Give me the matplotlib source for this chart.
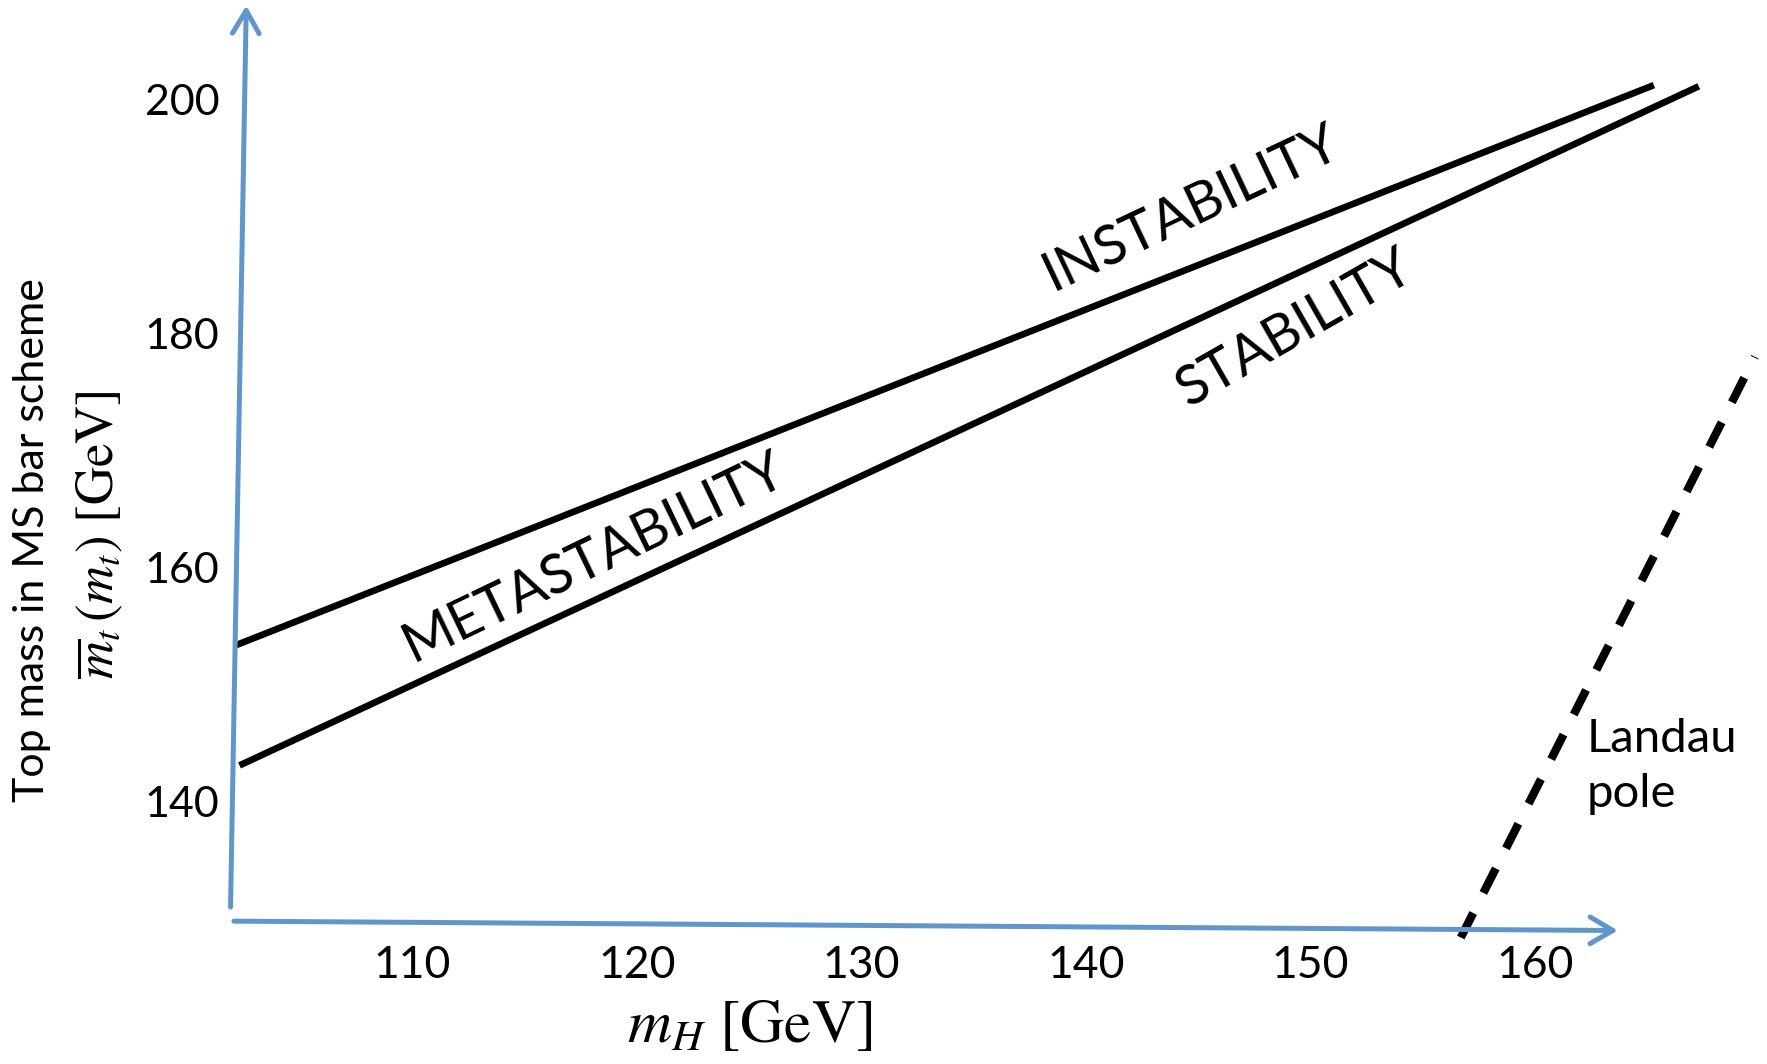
import matplotlib
matplotlib.use("Agg")
import matplotlib.pyplot as plt

# ---- data (schematic) ----
x_ticks = [110, 120, 130, 140, 150, 160]
y_ticks = [140, 160, 180, 200]

mH_instab = [102.05, 165.3]
mt_instab = [153.6, 201.5]

mH_stab = [102.3, 167.3]
mt_stab = [143.4, 201.4]

mH_landau = [156.7, 169.8]
mt_landau = [128.7, 178.3]

# axis arrows (hand-drawn, slightly tilted)
yaxis_mH = [101.9, 102.6]
yaxis_mt = [131.3, 208.3]
xaxis_mH = [102.05, 163.7]
xaxis_mt = [130.1, 129.3]

region_labels = ["INSTABILITY", "METASTABILITY", "STABILITY"]
region_pos = [(144.7, 191.0), (118.1, 161.2), (149.3, 180.7)]
region_rot = [25.3, 25.7, 29.8]

BLUE = "#6096C9"
SANS = ["Lato", "DejaVu Sans"]

plt.rcParams["mathtext.fontset"] = "stix"

fig = plt.figure(figsize=(17.67, 10.64), dpi=100)
ax = fig.add_axes([0, 0, 1, 1])
ax.set_xlim(91.63, 170.34)
ax.set_ylim(117.9, 208.77)
ax.axis("off")

# axes arrows
arrow_kw = dict(arrowstyle="->,head_length=0.55,head_width=0.32",
                lw=3.6, color=BLUE, shrinkA=0, shrinkB=0, mutation_scale=30)
ax.annotate("", xy=(yaxis_mH[1], yaxis_mt[1]), xytext=(yaxis_mH[0], yaxis_mt[0]),
            arrowprops=arrow_kw)
ax.annotate("", xy=(xaxis_mH[1], xaxis_mt[1]), xytext=(xaxis_mH[0], xaxis_mt[0]),
            arrowprops=arrow_kw)

# boundary lines
ax.plot(mH_instab, mt_instab, color="black", lw=4.8, solid_capstyle="butt")
ax.plot(mH_stab, mt_stab, color="black", lw=4.8, solid_capstyle="butt")
ax.plot(mH_landau, mt_landau, color="black", lw=6.0, dashes=(3.3, 2.7),
        dash_capstyle="butt")

# tick labels
for v in x_ticks:
    ax.text(v, 126.3, str(v), ha="center", va="center", fontsize=32, family=SANS)
for v in y_ticks:
    ax.text(101.4, v, str(v), ha="right", va="center", fontsize=31, family=SANS)

# region labels
for t, (x, y), r in zip(region_labels, region_pos, region_rot):
    ax.text(x, y, t, ha="center", va="center", rotation=r,
            rotation_mode="anchor", fontsize=40, family=SANS)

ax.text(162.3, 143.3, "Landau\npole", ha="left", va="center", fontsize=34,
        family=SANS, linespacing=1.4)

# axis titles
ax.text(0.018, 0.492, "Top mass in MS bar scheme", transform=ax.transAxes,
        rotation=90, ha="center", va="center", fontsize=31, family=SANS)
ax.text(0.056, 0.497, r"$\overline{m}_t\,(m_t)\ [\mathrm{GeV}]$",
        transform=ax.transAxes, rotation=90, ha="center", va="center",
        fontsize=38)
ax.text(0.424, 0.036, r"$m_H\ [\mathrm{GeV}]$", transform=ax.transAxes,
        ha="center", va="center", fontsize=44)

fig.savefig("out.png", dpi=100)
